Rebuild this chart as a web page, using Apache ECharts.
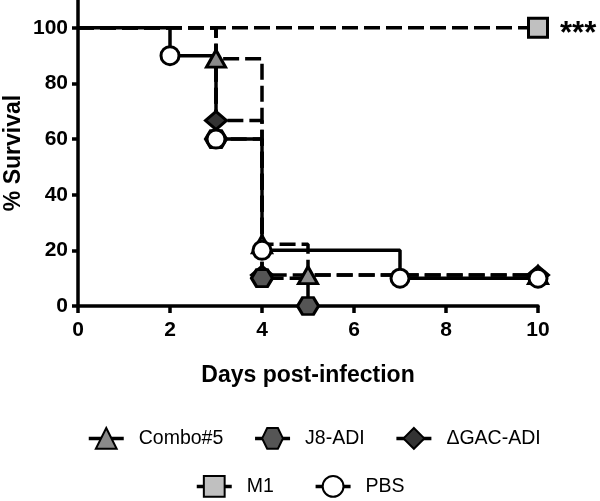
<!DOCTYPE html>
<html><head><meta charset="utf-8">
<script src="https://cdn.jsdelivr.net/npm/echarts@6/dist/echarts.min.js"></script>
<style>html,body{margin:0;padding:0;background:#fff}#c{width:600px;height:501px}</style>
</head><body><div id="c"></div>
<script>
// ---- data ----
const seriesNames = ['Combo#5', 'J8-ADI', 'ΔGAC-ADI', 'M1', 'PBS'];
const comboDays = [0, 3, 4, 5, 10];
const comboSurv = [100, 88.9, 22.2, 11.1, 11.1];
const j8Days = [0, 3, 4, 5];
const j8Surv = [100, 60, 10, 0];
const dgacDays = [0, 3, 4, 10];
const dgacSurv = [100, 66.7, 11.1, 11.1];
const m1Days = [0, 10];
const m1Surv = [100, 100];
const pbsDays = [0, 2, 3, 4, 7, 10];
const pbsSurv = [100, 90, 60, 20, 10, 10];
const xTicks = [0, 2, 4, 6, 8, 10];
const yTicks = [0, 20, 40, 60, 80, 100];
const sigLabel = '***';

const FONT = '"Liberation Sans", Arial, sans-serif';
const hexPath = 'path://M0,5 L2.9,0 L9.1,0 L12,5 L9.1,10 L2.9,10 Z';

function pts(days, surv) {
  return days.map((d, i) => ({ value: [d, surv[i]], symbolSize: i === 0 ? 0 : undefined }));
}
function mk(name, days, surv, symbol, size, fill, dashed, extra) {
  return Object.assign({
    name, type: 'line', step: 'end', clip: false,
    data: pts(days, surv),
    symbol, symbolSize: size, showAllSymbol: true,
    lineStyle: { color: '#000', width: 3.5, type: dashed ? [16, 6] : 'solid', cap: 'butt' },
    itemStyle: { color: fill, borderColor: '#000', borderWidth: 3 },
    emphasis: { disabled: true }
  }, extra || {});
}

const comboS = mk(seriesNames[0], comboDays, comboSurv, 'triangle', [19, 17], '#8a8a8a', true);
const j8S = mk(seriesNames[1], j8Days, j8Surv, hexPath, [21, 17], '#555555', true);
const dgacS = mk(seriesNames[2], dgacDays, dgacSurv, 'diamond', [21, 18], '#333333', true);
const m1S = mk(seriesNames[3], m1Days, m1Surv, 'rect', [19, 19], '#c0c0c0', true, {
  label: { show: true, position: 'right', distance: 11, offset: [0, 7],
    formatter: p => p.dataIndex === m1Days.length - 1 ? sigLabel : '',
    fontFamily: FONT, fontWeight: 'bold', fontSize: 31, color: '#000' }
});
const pbsS = mk(seriesNames[4], pbsDays, pbsSurv, 'circle', 18, '#ffffff', false);
// drawing order: diamond below hexagon, circles on top
const series = [comboS, dgacS, j8S, m1S, pbsS];

const chart = echarts.init(document.getElementById('c'), null, { renderer: 'canvas' });
const legendCommon = {
  orient: 'horizontal', itemWidth: 35, itemHeight: 26,
  textStyle: { fontFamily: FONT, fontSize: 19.5, color: '#000', padding: [0, 0, 0, 10] },
  lineStyle: { type: 'solid', width: 3.5, color: '#000' },
  selectedMode: false
};
chart.setOption({
  animation: false,
  backgroundColor: '#fff',
  grid: { left: 78, right: 62, top: 0, bottom: 195, containLabel: false, outerBoundsMode: 'none' },
  xAxis: {
    type: 'value', min: 0, max: 10, interval: 2,
    name: 'Days post-infection', nameLocation: 'middle', nameGap: 58, nameMoveOverlap: false,
    nameTextStyle: { fontFamily: FONT, fontWeight: 'bold', fontSize: 23, color: '#000' },
    axisLine: { show: true, onZero: false, lineStyle: { color: '#000', width: 3.5 } },
    axisTick: { show: true, length: 7, lineStyle: { color: '#000', width: 3.5 }, customValues: xTicks },
    axisLabel: { fontFamily: FONT, fontWeight: 'bold', fontSize: 21, color: '#000', margin: 14, customValues: xTicks },
    splitLine: { show: false }
  },
  yAxis: {
    type: 'value', min: 0, max: 110, interval: 20,
    name: '% Survival', nameLocation: 'middle', nameGap: 53, nameMoveOverlap: false,
    nameTextStyle: { fontFamily: FONT, fontWeight: 'bold', fontSize: 23, color: '#000' },
    axisLine: { show: true, onZero: false, lineStyle: { color: '#000', width: 3.5 } },
    axisTick: { show: true, length: 6, lineStyle: { color: '#000', width: 3.5 }, customValues: yTicks },
    axisLabel: { fontFamily: FONT, fontWeight: 'bold', fontSize: 21, color: '#000', margin: 10, customValues: yTicks },
    splitLine: { show: false }
  },
  legend: [
    Object.assign({ data: seriesNames.slice(0, 3), left: 82, top: 422, itemGap: 30 }, legendCommon),
    Object.assign({ data: seriesNames.slice(3), left: 190, top: 470, itemGap: 40 }, legendCommon)
  ],
  series
});
</script></body></html>
